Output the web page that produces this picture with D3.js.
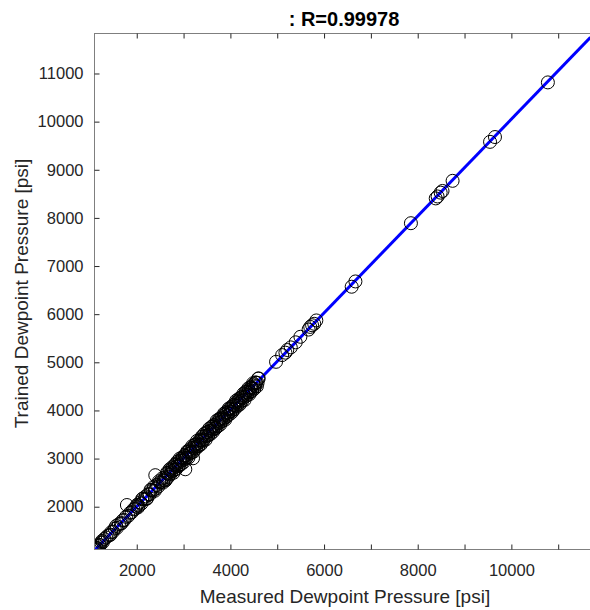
<!DOCTYPE html>
<html>
<head>
<meta charset="utf-8">
<script src="https://cdn.jsdelivr.net/npm/d3@7"></script>
<style>
  html, body { margin: 0; padding: 0; background: #ffffff; }
  svg { display: block; }
  text { font-family: "Liberation Sans", Arial, Helvetica, sans-serif; }
</style>
</head>
<body>
<svg id="chart" width="590" height="610"></svg>
<script>
// Measured vs. trained dewpoint pressure (psi)
const measured = [
  1098,1110,1118,1125,1140,1152,1170,1195,1215,1240,1260,1275,1310,1345,1380,1420,1440,1455,1490,1530,
  1560,1575,1620,1660,1680,1700,1735,1770,1790,1820,1860,1895,1930,1965,1990,
  2010,2025,2040,2075,2100,2115,2130,2165,2190,2205,2220,2250,2280,2295,2310,2340,2370,2385,2396,2400,
  2430,2460,2475,2490,2520,2545,2560,
  2575,2600,2630,2660,2690,2715,2745,2770,2800,2825,2850,2880,2905,2930,2960,2985,3010,3037,3040,3065,
  3090,3120,3145,3170,3200,3202,3225,3250,3275,3300,3330,3355,3380,3405,3430,3460,3485,3510,3535,3560,
  3590,3615,3640,3665,3690,3720,3745,3770,3795,3820,3850,3875,3900,3925,3950,3980,4005,4030,4055,4080,
  4110,4135,4160,4185,4210,4240,4265,4290,4315,4340,4370,4395,4420,4445,4470,4500,4525,4550,4580,4605,
  2615,2645,2675,2700,2730,2758,2785,2812,2838,2865,2892,2918,2945,2972,2998,3025,3052,3078,3105,3132,
  3158,3185,3212,3238,3262,3288,3315,3342,3368,3392,3418,3445,3472,3498,3522,3548,3575,3602,3628,3652,
  3678,3705,3732,3758,3782,3808,3835,3862,3888,3912,3938,3965,3992,4018,4042,4068,4095,4122,4148,4172,
  4198,4225,4252,4278,4302,4328,4355,4382,4408,4432,4458,4485,4512,4538,4565,4592,
  4975,5105,5175,5215,5290,5395,5495,5670,5705,5745,5790,5835,6590,6670,7855,8385,8425,8490,8530,8745,
  9545,9650,10780
];
const trained = [
  1112,1125,1098,1140,1150,1135,1182,1210,1198,1255,1290,1262,1330,1360,1395,1410,1420,1470,1480,1545,
  1600,1560,1640,1650,1660,1715,1725,1790,2035,1810,1875,1885,1945,1955,2005,
  2040,1985,2020,2090,2065,2160,2170,2155,2215,2160,2175,2260,2255,2350,2345,2335,2420,2330,2655,2370,
  2450,2420,2530,2505,2505,2590,2500,
  2545,2605,2580,2690,2670,2755,2735,2795,2765,2880,2835,2900,2860,2965,2955,3010,2980,2778,3055,3025,
  3135,3100,3155,3135,3230,3006,3215,3290,3250,3315,3285,3380,3375,3455,3400,3470,3465,3545,3495,3580,
  3575,3660,3615,3670,3640,3750,3735,3810,3765,3835,3830,3910,3855,3950,3945,4025,3980,4040,4020,4110,
  4095,4175,4140,4205,4170,4275,4255,4315,4285,4385,4365,4415,4385,4475,4455,4540,4505,4575,4570,4665,
  2545,2705,2620,2775,2690,2823,2705,2862,2778,2935,2847,2998,2880,3027,2923,3070,3002,3148,3020,3192,
  3118,3260,3142,3288,3207,3368,3255,3387,3293,3457,3368,3515,3392,3553,3477,3623,3510,3662,3558,3702,
  3623,3785,3672,3823,3707,3853,3785,3932,3808,3972,3893,4040,3927,4073,3972,4118,4035,4202,4093,4237,
  4123,4270,4202,4348,4217,4388,4315,4457,4338,4487,4403,4565,4452,4583,4500,4662,
  5010,5150,5200,5255,5310,5415,5530,5680,5735,5770,5800,5870,6570,6680,7890,8405,8445,8525,8560,8770,
  9580,9680,10815
];

// Linear fit of trained on measured, and its correlation
const fitSlope = 1.006;
const fitIntercept = -10;
const rValue = "0.99978";

const xTicks = [2000,3000,4000,5000,6000,7000,8000,9000,10000,11000];
const xTickLabels = ["2000","","4000","","6000","","8000","","10000",""];
const yTicks = [2000,3000,4000,5000,6000,7000,8000,9000,10000,11000];
const yTickLabels = ["2000","3000","4000","5000","6000","7000","8000","9000","10000","11000"];

const xDomain = [1098, 11690];
const yDomain = [1111, 11831];

const svg = d3.select("#chart");
const plot = { left: 94.5, right: 590.5, top: 33.5, bottom: 549.5 };

const x = d3.scaleLinear().domain(xDomain).range([plot.left, plot.right]);
const y = d3.scaleLinear().domain(yDomain).range([plot.bottom, plot.top]);

const textColor = "#262626";
const boxColor = "#7f7f7f";

svg.append("defs").append("clipPath").attr("id", "plotClip")
  .append("rect")
  .attr("x", plot.left).attr("y", plot.top)
  .attr("width", plot.right - plot.left).attr("height", plot.bottom - plot.top);

// Fit line across the full axis range
const fitPts = xDomain.map(v => [v, fitSlope * v + fitIntercept]);
svg.append("path")
  .attr("clip-path", "url(#plotClip)")
  .attr("d", d3.line().x(d => x(d[0])).y(d => y(d[1]))(fitPts))
  .attr("fill", "none")
  .attr("stroke", "#0000ff")
  .attr("stroke-width", 3);

// Data points as open circles
svg.append("g").attr("clip-path", "url(#plotClip)")
  .selectAll("circle")
  .data(measured.map((m, i) => [m, trained[i]]))
  .join("circle")
  .attr("cx", d => x(d[0]))
  .attr("cy", d => y(d[1]))
  .attr("r", 6.5)
  .attr("fill", "none")
  .attr("stroke", "#000000")
  .attr("stroke-width", 1);

// Box
svg.append("rect")
  .attr("x", plot.left).attr("y", plot.top)
  .attr("width", plot.right - plot.left).attr("height", plot.bottom - plot.top)
  .attr("fill", "none").attr("stroke", boxColor).attr("stroke-width", 1);

// Axes with inward ticks
const xAxisBottom = d3.axisBottom(x).tickValues(xTicks).tickSize(-5).tickPadding(15)
  .tickFormat((d, i) => xTickLabels[i]);
const gx = svg.append("g").attr("transform", `translate(0,${plot.bottom})`).call(xAxisBottom);
const xAxisTop = d3.axisTop(x).tickValues(xTicks).tickSize(-5).tickFormat("");
const gxt = svg.append("g").attr("transform", `translate(0,${plot.top})`).call(xAxisTop);

const yAxisLeft = d3.axisLeft(y).tickValues(yTicks).tickSize(-5).tickPadding(11)
  .tickFormat((d, i) => yTickLabels[i]);
const gy = svg.append("g").attr("transform", `translate(${plot.left},0)`).call(yAxisLeft);

[gx, gxt, gy].forEach(g => {
  g.select(".domain").remove();
  g.selectAll(".tick line").attr("stroke", textColor);
  g.selectAll(".tick text")
    .attr("fill", textColor)
    .style("font-size", "16.5px")
    .style("font-family", "'Liberation Sans', Arial, sans-serif");
});

// Axis labels
svg.append("text")
  .attr("x", 345).attr("y", 603)
  .attr("text-anchor", "middle")
  .attr("fill", textColor)
  .style("font-size", "19px")
  .text("Measured Dewpoint Pressure [psi]");

svg.append("text")
  .attr("transform", `translate(28,${(plot.top + plot.bottom) / 2 + 2}) rotate(-90)`)
  .attr("text-anchor", "middle")
  .attr("fill", textColor)
  .style("font-size", "19px")
  .text("Trained Dewpoint Pressure [psi]");

// Title
svg.append("text")
  .attr("x", 344).attr("y", 26)
  .attr("text-anchor", "middle")
  .attr("fill", "#000000")
  .style("font-size", "20px")
  .style("font-weight", "bold")
  .text(": R=" + rValue);
</script>
</body>
</html>
